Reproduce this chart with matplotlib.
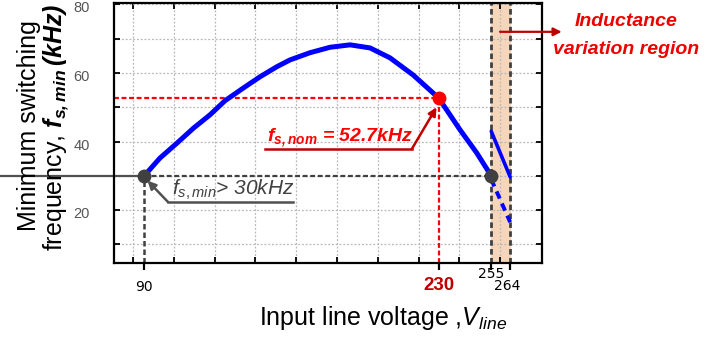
import matplotlib
matplotlib.use("Agg")
import matplotlib.pyplot as plt
import matplotlib.transforms as mtransforms
import numpy as np

plt.rcParams['font.family'] = ['Liberation Sans', 'DejaVu Sans']
plt.rcParams['mathtext.fontset'] = 'custom'
plt.rcParams['mathtext.rm'] = 'Liberation Sans'
plt.rcParams['mathtext.it'] = 'Liberation Sans:italic'
plt.rcParams['mathtext.bf'] = 'Liberation Sans:bold:italic'

# ---- data ----
voltage = [90, 97.5, 105.5, 113.4, 121.3, 128.4, 137.1, 145.1, 153.0, 159.3,
           168.8, 178.4, 187.9, 197.4, 206.9, 217.9, 230, 240.2, 248.1, 255]
fs_min = [30, 35.2, 39.5, 43.9, 47.8, 51.9, 55.6, 58.9, 61.8, 63.8,
          65.9, 67.5, 68.2, 67.3, 64.4, 59.4, 52.7, 43.4, 36.7, 30]
var_v = [255, 264]
var_upper = [43.0, 29.7]
var_lower = [29.0, 16.5]

v_min, v_nom, v_lo, v_hi = 90, 230, 255, 264
f_limit = 30
f_nom = 52.7

xtick_vals = [90, 230, 255, 264]
ytick_vals = [20, 40, 60, 80]
ygrid_vals = [10, 20, 30, 40, 50, 60, 70]

# ---- figure ----
W, H = 720, 339
fig = plt.figure(figsize=(W / 100, H / 100), dpi=100)
ax = fig.add_axes([114 / W, 1 - 263 / H, 427.5 / W, 260 / H])
xmin, xmax = 75.65, 278.9
ymin, ymax = 4.6, 80.4
ax.set_xlim(xmin, xmax)
ax.set_ylim(ymin, ymax)

for s in ax.spines.values():
    s.set_linewidth(1.6)
    s.set_color('black')

# grid (minor x positions / y grid)
xgrid = np.arange(84.7, 270, 19.4)
ax.set_xticks(xgrid, minor=True)
ax.set_xticks(xtick_vals)
ax.set_xticklabels([''] * len(xtick_vals))
ax.set_yticks(ygrid_vals + [80])
ax.set_yticklabels([])
ax.xaxis.grid(True, which='minor', color='#b8b8b8', ls=(0, (1.5, 1.5)), lw=0.9)
ax.yaxis.grid(True, which='major', color='#b8b8b8', ls=(0, (1.5, 1.5)), lw=0.9)
ax.tick_params(axis='x', which='minor', direction='in', top=True, bottom=True,
               length=4, width=1.3)
ax.tick_params(axis='x', which='major', direction='out', top=False, bottom=True,
               length=5, width=1.6)
ax.tick_params(axis='y', which='major', direction='in', left=True, right=True,
               length=4, width=1.3)

# inductance variation region
ax.axvspan(v_lo, v_hi, color='#f6d6bb', zorder=1)
for v in (v_lo, v_hi):
    ax.axvline(v, color='#404040', lw=2.0, ls=(0, (2, 1.2)), zorder=2)

# nominal (red dashed)
ax.plot([xmin, v_nom], [f_nom, f_nom], color='#ff0000', lw=1.6,
        ls=(0, (2.2, 1.2)), zorder=2)
ax.plot([v_nom, v_nom], [ymin, f_nom], color='#ff0000', lw=1.6,
        ls=(0, (2.2, 1.2)), zorder=2)

# 30 kHz limit
left_ext = xmin - (114 / 427.5) * (xmax - xmin)
ax.plot([left_ext, v_min], [f_limit, f_limit], color='#505050', lw=1.6,
        clip_on=False, zorder=2)
ax.plot([v_min, v_lo], [f_limit, f_limit], color='#404040', lw=1.6,
        ls=(0, (2.2, 1.2)), zorder=2)
ax.plot([v_min, v_min], [ymin, f_limit], color='#404040', lw=1.8,
        ls=(0, (2.2, 1.2)), zorder=2)

# curves
ax.plot(voltage, fs_min, color='#0000ff', lw=3.6, solid_capstyle='round',
        solid_joinstyle='round', zorder=3)
ax.plot(var_v, var_upper, color='#0000ff', lw=2.6, solid_capstyle='round', zorder=3)
ax.plot(var_v, var_lower, color='#0000ff', lw=2.8, ls=(0, (2, 1.4)), zorder=3)

# points
ax.plot([v_min, v_lo], [f_limit, f_limit], 'o', color='#404040', ms=9, zorder=4)
ax.plot([v_nom], [f_nom], 'o', color='#ff0000', ms=9, zorder=4)

# x tick labels
xtr = ax.get_xaxis_transform()
ax.text(v_min, -0.092, '90', transform=xtr, ha='center', va='center',
        fontsize=10, family='DejaVu Sans', color='black')
ax.text(v_nom, -0.085, '230', transform=xtr, ha='center', va='center',
        fontsize=13.5, fontweight='bold', color='#c00000')
ax.text(v_lo, -0.042, '255', transform=xtr, ha='center', va='center',
        fontsize=10, family='DejaVu Sans', color='black')
ax.text(v_hi - 1.2, -0.088, '264', transform=xtr, ha='center', va='center',
        fontsize=10, family='DejaVu Sans', color='black')

# y tick labels
ytr = ax.get_yaxis_transform() + mtransforms.ScaledTranslation(0, -4 / 100, fig.dpi_scale_trans)
for yv in ytick_vals:
    ax.text(-0.056, yv, str(yv), transform=ytr, ha='right', va='center',
            fontsize=10.5, color='#555555', clip_on=False)

# annotation: nominal
ax.text(148.4, 39.9, r'$\mathbf{f}_{\mathbf{s,nom}}$' + ' = 52.7kHz',
        color='#ff0000', fontsize=14, fontweight='bold', fontstyle='italic',
        va='baseline', ha='left', zorder=5)
ax.plot([147.5, 217.3], [37.9, 37.9], color='#c00000', lw=1.8, zorder=5)
ax.annotate('', xy=(229.0, 50.0), xytext=(217.3, 37.9),
            arrowprops=dict(arrowstyle='-|>', color='#c00000', lw=1.8,
                            mutation_scale=12, shrinkA=0, shrinkB=0), zorder=5)

# annotation: minimum
ax.text(103.2, 24.4, r'$f_{s,min}$' + '> 30kHz', color='#404040', fontsize=15,
        fontstyle='italic', va='baseline', ha='left', zorder=5)
ax.plot([101.3, 160.8], [22.4, 22.4], color='#505050', lw=1.8, zorder=5)
ax.annotate('', xy=(91.6, 28.6), xytext=(101.3, 22.4),
            arrowprops=dict(arrowstyle='-|>', color='#505050', lw=1.8,
                            mutation_scale=12, shrinkA=0, shrinkB=0), zorder=5)

# inductance region arrow and label
ax.annotate('', xy=(288.5, 72.0), xytext=(259.2, 72.0),
            arrowprops=dict(arrowstyle='-|>', color='#c00000', lw=1.6,
                            mutation_scale=12, shrinkA=0, shrinkB=0),
            annotation_clip=False, zorder=5)
fig.text(626 / W, 1 - 22 / H, 'Inductance', color='#ee0000', fontsize=14,
         fontweight='bold', fontstyle='italic', ha='center', va='center')
fig.text(626 / W, 1 - 50 / H, 'variation region', color='#ee0000', fontsize=14,
         fontweight='bold', fontstyle='italic', ha='center', va='center')

# axis labels
fig.text(29 / W, 1 - 126 / H, 'Minimum switching', rotation=90, fontsize=18,
         ha='center', va='center')
fig.text(56 / W, 1 - 127 / H,
         'frequency, ' + r'$\mathbf{f}_{\mathbf{s,min}}\,\mathbf{(kHz)}$',
         rotation=90, fontsize=18, ha='center', va='center')
fig.text(383 / W, 1 - 318 / H, 'Input line voltage ,' + r'$V_{line}$',
         fontsize=18, ha='center', va='center')

fig.savefig('out.png', dpi=100)
